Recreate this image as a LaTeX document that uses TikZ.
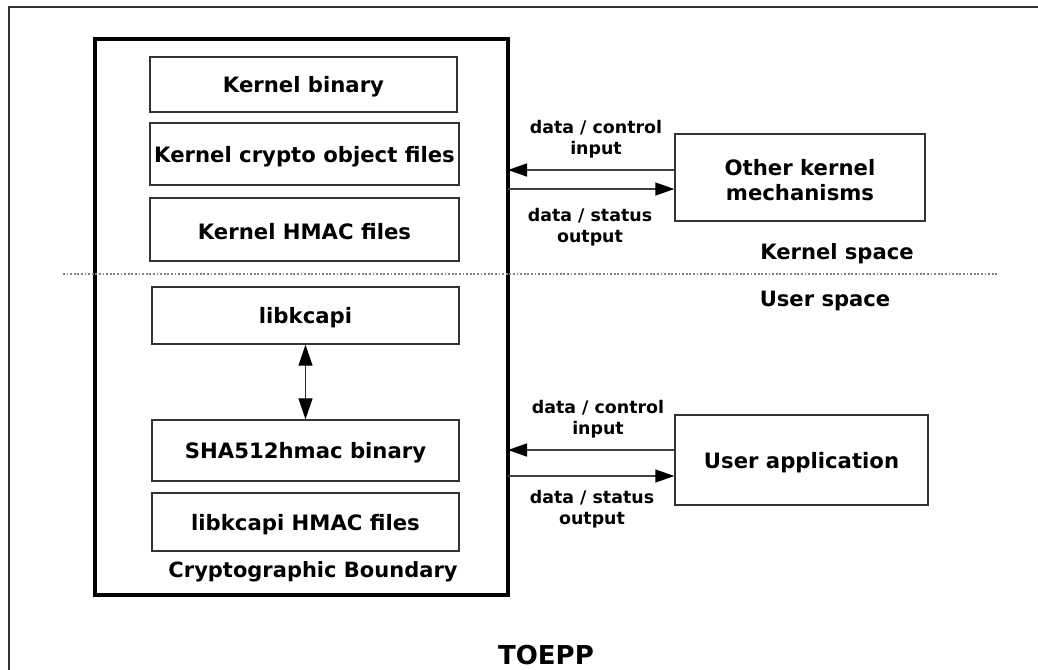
\documentclass[tikz,border=0pt]{standalone}
\usepackage{fontspec}
\setmainfont{DejaVu Sans}
\usetikzlibrary{arrows.meta}
\newcommand{\lowr}[1]{\raisebox{-2.5pt}[\height][\depth]{#1}}
\tikzset{
  box/.style={draw=black!80, line width=1.4pt, font=\fontsize{21.2}{25}\selectfont\bfseries, align=center, inner sep=0pt},
  lbl/.style={font=\fontsize{17.4}{20.5}\selectfont\bfseries, align=center, inner sep=0pt},
  conn/.style={draw=black!75, line width=1.4pt, -{Triangle[length=19pt,width=13pt,color=black]}},
  dconn/.style={draw=black!85, line width=1.2pt, {Triangle[length=21pt,width=14pt,color=black]}-{Triangle[length=21pt,width=14pt,color=black]}}
}
\begin{document}
\begin{tikzpicture}[x=1pt,y=-1pt]
\useasboundingbox (0,0) rectangle (1038,669);
\begin{scope}
\clip (0,0) rectangle (1038,669);
\draw[black!80, line width=2pt] (9,700) -- (9,7) -- (1050,7);
\end{scope}
% crypto boundary
\node[draw=black, line width=4pt, minimum width=413pt, minimum height=556pt, inner sep=0pt] (cb) at (301.5,317) {};
\node[box, minimum width=307pt, minimum height=55pt] (kb) at (303.5,84.5) {\lowr{Kernel binary}};
\node[box, minimum width=309pt, minimum height=62pt] (kc) at (304.5,154) {\lowr{Kernel crypto object files}};
\node[box, minimum width=309pt, minimum height=63pt] (kh) at (304.5,229.5) {\lowr{Kernel HMAC files}};
\node[box, minimum width=307pt, minimum height=57pt] (lk) at (305.5,315.5) {\lowr{libkcapi}};
\node[box, minimum width=307pt, minimum height=61pt] (sh) at (305.5,450.5) {\lowr{SHA512hmac binary}};
\node[box, minimum width=307pt, minimum height=58pt] (lh) at (305.5,522) {\lowr{libkcapi HMAC files}};
\node[lbl, font=\fontsize{21}{25}\selectfont\bfseries] (cbl) at (313,572) {Cryptographic Boundary};
\draw[dconn] (lk.south) -- (sh.north);
% divider
\coordinate (dl) at (63,274);
\coordinate (dr) at (997,274);
\draw[gray, line width=1.4pt, dash pattern=on 1.8pt off 1.8pt] (dl) -- (dr);
\node[lbl, font=\fontsize{21.1}{25}\selectfont\bfseries] (ks) at (837,254) {Kernel space};
\node[lbl, font=\fontsize{21.1}{25}\selectfont\bfseries] (us) at (825,301) {User space};
% kernel mechanisms
\node[box, minimum width=250pt, minimum height=87pt] (ok) at (800,177.5) {\lowr{Other kernel}\\\lowr{mechanisms}};
\coordinate (ki) at (508,170);
\coordinate (ko) at (508,189);
\draw[conn] (ok.west |- ki) -- (ki);
\draw[conn] (ko) -- (ok.west |- ko);
\node[lbl] (kin) at (596,139) {data / control\\input};
\node[lbl] (kout) at (590,227) {data / status\\output};
% user application
\node[box, minimum width=253pt, minimum height=90pt] (ua) at (801.5,460) {\lowr{User application}};
\coordinate (ui) at (508,450);
\coordinate (uo) at (508,476);
\draw[conn] (ua.west |- ui) -- (ui);
\draw[conn] (uo) -- (ua.west |- uo);
\node[lbl] (uin) at (598,419) {data / control\\input};
\node[lbl] (uout) at (592,509) {data / status\\output};
\node[lbl, font=\fontsize{26}{30}\selectfont\bfseries] (toepp) at (546,655) {TOEPP};
\end{tikzpicture}
\end{document}
